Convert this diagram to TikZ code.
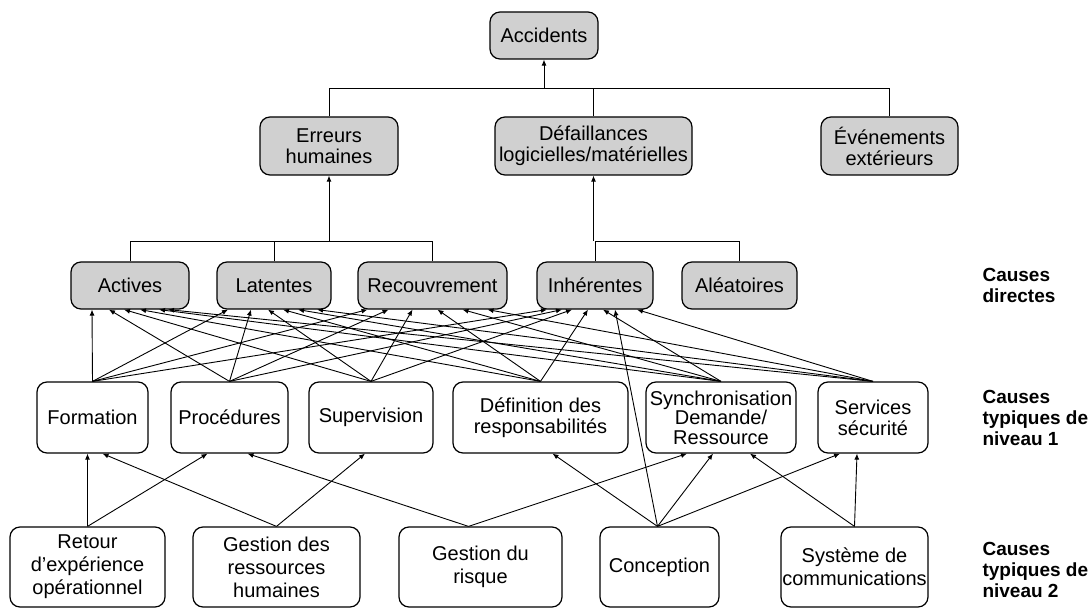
\documentclass[tikz,border=0pt]{standalone}
\usepackage{fontspec}
\setmainfont{Liberation Sans}
\usetikzlibrary{arrows.meta,positioning}
\definecolor{boxgray}{RGB}{208,208,208}

\begin{document}
\begin{tikzpicture}[x=1pt,y=-1pt,
  box/.style={draw,line width=1.2pt,rounded corners=10pt,align=center,
    inner sep=1pt,font=\fontsize{20}{21}\selectfont},
  cause/.style={box,fill=boxgray},
  arr/.style={-{Latex[length=6pt,width=5pt]},line width=0.9pt},
  lvl/.style={anchor=west,align=left,font=\bfseries\fontsize{19}{21}\selectfont},
]
\useasboundingbox (0,0) rectangle (1090,609);

% top
\node[cause,minimum width=108pt,minimum height=47pt] (accidents) at (544,35.5) {Accidents};
\node[cause,minimum width=138pt,minimum height=58pt] (erreurs) at (329,146) {Erreurs\\humaines};
\node[cause,minimum width=197pt,minimum height=58pt] (defaill) at (593.5,146) {Défaillances\\logicielles/matérielles};
\node[cause,minimum width=137pt,minimum height=58pt] (evenem) at (889.5,146) {Événements\\extérieurs};

% causes directes
\node[cause,minimum width=118pt,minimum height=47pt] (actives) at (130,285.5) {Actives};
\node[cause,minimum width=114pt,minimum height=47pt] (latentes) at (274,285.5) {Latentes};
\node[cause,minimum width=149pt,minimum height=47pt] (recouv) at (432.5,285.5) {Recouvrement};
\node[cause,minimum width=116pt,minimum height=47pt] (inher) at (595,285.5) {Inhérentes};
\node[cause,minimum width=115pt,minimum height=47pt] (aleat) at (739.5,285.5) {Aléatoires};

% niveau 1
\node[box,minimum width=111pt,minimum height=71pt] (form) at (92.5,417.5) {Formation};
\node[box,minimum width=117pt,minimum height=71pt] (proc) at (229.5,417.5) {Procédures};
\node[box,minimum width=124pt,minimum height=71pt] (superv) at (371,417.5) {Supervision};
\node[box,minimum width=175pt,minimum height=71pt] (defin) at (540.5,417.5) {Définition des\\responsabilités};
\node[box,minimum width=150pt,minimum height=71pt,font=\fontsize{20}{19.5}\selectfont] (synchro) at (721,417.5) {Synchronisation\\Demande/\\Ressource};
\node[box,minimum width=110pt,minimum height=71pt] (servsec) at (873,417.5) {Services\\sécurité};

% niveau 2
\node[box,minimum width=155pt,minimum height=80pt,font=\fontsize{20}{23}\selectfont] (retour) at (87.5,567) {Retour\\d’expérience\\opérationnel};
\node[box,minimum width=167pt,minimum height=80pt,font=\fontsize{20}{23}\selectfont] (grh) at (276.5,567) {Gestion des\\ressources\\humaines};
\node[box,minimum width=163pt,minimum height=80pt,font=\fontsize{20}{23}\selectfont] (risque) at (480.5,567) {Gestion du\\risque};
\node[box,minimum width=119pt,minimum height=80pt] (concep) at (659.5,567) {Conception};
\node[box,minimum width=147pt,minimum height=80pt,font=\fontsize{20}{23}\selectfont] (syscom) at (854.5,567) {Système de\\communications};

% legend
\node[lvl] (lgdir) at (979,285) {Causes\\directes};
\node[lvl] (lgn1) at (979,418) {Causes\\typiques de\\niveau 1};
\node[lvl] (lgn2) at (979,570) {Causes\\typiques de\\niveau 2};

% tree on top
\coordinate (topbar) at (0,88);
\coordinate (midbar) at (0,241);
\draw[line width=0.9pt] (erreurs.north) -- (erreurs.north |- topbar) -- (evenem.north |- topbar) -- (evenem.north);
\draw[line width=0.9pt] (defaill.north) -- (defaill.north |- topbar);
\draw[arr] (accidents.south |- topbar) -- (accidents.south);
\draw[line width=0.9pt] (actives.north) -- (actives.north |- midbar) -- (recouv.north |- midbar) -- (recouv.north);
\draw[line width=0.9pt] (latentes.north) -- (latentes.north |- midbar);
\draw[arr] (erreurs.south |- midbar) -- (erreurs.south);
\draw[line width=0.9pt] (inher.north) -- (inher.north |- midbar) -- (aleat.north |- midbar) -- (aleat.north);
\draw[arr] (defaill.south |- midbar) -- (defaill.south);

% niveau 1 -> causes directes
\foreach \s/\a/\l/\r/\i in {form/-38/-46/-65/-48, proc/-21/-23/-44/-33,
    superv/-6/-6/-20/-23, defin/10/9/5/-7, synchro/29/24/30/8, servsec/38/43/55/42}{
  \draw[arr] (\s.north) -- ([xshift=\a pt]actives.south);
  \draw[arr] (\s.north) -- ([xshift=\l pt]latentes.south);
  \draw[arr] (\s.north) -- ([xshift=\r pt]recouv.south);
  \draw[arr] (\s.north) -- ([xshift=\i pt]inher.south);
}
\draw[arr] ([xshift=-2pt]concep.north) -- ([xshift=20pt]inher.south);

% niveau 2 -> niveau 1
\draw[arr] (retour.north) -- ([xshift=-5pt]form.south);
\draw[arr] (retour.north) -- ([xshift=-22pt]proc.south);
\draw[arr] (grh.north) -- ([xshift=10pt]form.south);
\draw[arr] (grh.north) -- ([xshift=-6pt]superv.south);
\draw[arr] ([xshift=-12pt]risque.north) -- ([xshift=18pt]proc.south);
\draw[arr] ([xshift=-12pt]risque.north) -- ([xshift=-34pt]synchro.south);
\draw[arr] ([xshift=-2pt]concep.north) -- ([xshift=12pt]defin.south);
\draw[arr] ([xshift=-2pt]concep.north) -- ([xshift=-8pt]synchro.south);
\draw[arr] ([xshift=-2pt]concep.north) -- ([xshift=-33pt]servsec.south);
\draw[arr] (syscom.north) -- ([xshift=29pt]synchro.south);
\draw[arr] (syscom.north) -- ([xshift=-16pt]servsec.south);
\end{tikzpicture}
\end{document}
